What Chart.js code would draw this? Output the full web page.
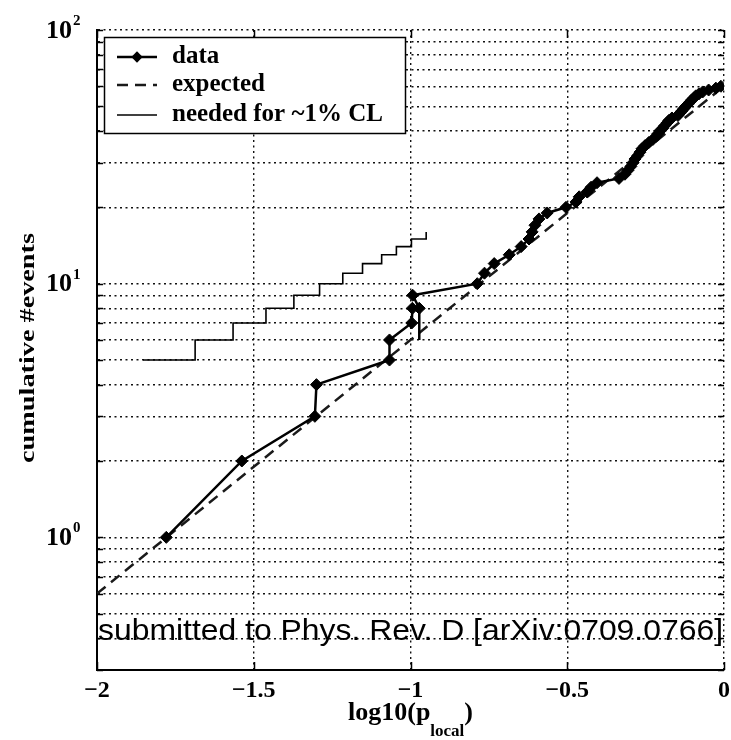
<!DOCTYPE html>
<html>
<head>
<meta charset="utf-8">
<script src="https://cdn.jsdelivr.net/npm/chart.js@4.4.1/dist/chart.umd.min.js"></script>
<style>
  body { margin: 0; background: #fff; }
  canvas { display: block; }
</style>
</head>
<body>
<canvas id="grafica" width="731" height="740"></canvas>
<script>
// cumulative event count vs log10(p_local)
const dataLogP = [-1.779, -1.538, -1.305, -1.300, -1.067, -1.067, -0.996, -0.994, -0.972, -0.993,
  -0.787, -0.764, -0.733, -0.685, -0.647, -0.622, -0.612, -0.603, -0.590, -0.564,
  -0.504, -0.472, -0.462, -0.437, -0.424, -0.405, -0.335, -0.316, -0.306, -0.297,
  -0.290, -0.284, -0.275, -0.268, -0.262, -0.252, -0.240, -0.227, -0.217, -0.211,
  -0.205, -0.195, -0.189, -0.182, -0.176, -0.166, -0.147, -0.141, -0.134, -0.128,
  -0.122, -0.115, -0.109, -0.103, -0.096, -0.090, -0.080, -0.068, -0.049, -0.026, -0.010];
const dataCount = [1, 2, 3, 4, 5, 6, 7, 8, 8, 9,
  10, 11, 12, 13, 14, 15, 16, 17, 18, 19,
  20, 21, 22, 23, 24, 25, 26, 27, 28, 29,
  30, 31, 32, 33, 34, 35, 36, 37, 38, 39,
  40, 41, 42, 43, 44, 45, 46, 47, 48, 49,
  50, 51, 52, 53, 54, 55, 56, 57, 58, 59, 60];

// stray vertical segment in the data curve
const strayLogP = [-0.972, -0.972];
const strayCount = [8, 6];

const expectedLogP = [-2, 0];
const expectedCount = [0.6, 60];

const neededLogP = [-1.853, -1.687, -1.566, -1.461, -1.372, -1.290, -1.216, -1.153, -1.092, -1.045, -0.997, -0.950];
const neededCount = [5, 6, 7, 8, 9, 10, 11, 12, 13, 14, 15, 16];

const xTicks = [-2, -1.5, -1, -0.5, 0];
const yGrid = [0.3, 0.4, 0.5, 0.6, 0.7, 0.8, 0.9, 1, 2, 3, 4, 5, 6, 7, 8, 9,
  10, 20, 30, 40, 50, 60, 70, 80, 90, 100];
const yLabelValues = [1, 10, 100];
const yLabelExp = ['0', '1', '2'];

const serif = "'Liberation Serif', 'DejaVu Serif', serif";

function pts(xs, ys) {
  return xs.map((x, i) => ({ x: x, y: ys[i] }));
}

const decoPlugin = {
  id: 'deco',
  afterDraw(chart) {
    const ctx = chart.ctx;
    const a = chart.chartArea;
    const xs = chart.scales.x, ys = chart.scales.y;
    ctx.save();

    // inward tick marks
    ctx.strokeStyle = '#000';
    ctx.lineWidth = 1.5;
    ctx.beginPath();
    yGrid.forEach(v => {
      const y = Math.round(ys.getPixelForValue(v)) + 0.5;
      ctx.moveTo(a.left, y); ctx.lineTo(a.left + 6, y);
      ctx.moveTo(a.right, y); ctx.lineTo(a.right - 6, y);
    });
    xTicks.forEach(v => {
      const x = Math.round(xs.getPixelForValue(v)) + 0.5;
      ctx.moveTo(x, a.bottom); ctx.lineTo(x, a.bottom - 8);
      ctx.moveTo(x, a.top); ctx.lineTo(x, a.top + 8);
    });
    ctx.stroke();

    // annotation
    ctx.fillStyle = '#000';
    ctx.font = "30px 'Liberation Sans', Arial, sans-serif";
    ctx.textAlign = 'left';
    ctx.textBaseline = 'alphabetic';
    const note = 'submitted to Phys. Rev. D [arXiv:0709.0766]';
    const nw = ctx.measureText(note).width;
    ctx.save();
    ctx.translate(a.left + 1, 640);
    ctx.scale((a.right - a.left - 2) / nw, 1);
    ctx.fillText(note, 0, 0);
    ctx.restore();

    // y tick labels 10^n
    yLabelValues.forEach((v, i) => {
      const y = ys.getPixelForValue(v);
      ctx.font = 'bold 26px ' + serif;
      ctx.textAlign = 'right';
      ctx.textBaseline = 'middle';
      ctx.fillText('10', 72, y + 1);
      ctx.font = 'bold 15px ' + serif;
      ctx.textAlign = 'left';
      ctx.fillText(yLabelExp[i], 73, y - 9);
    });

    // y title
    ctx.save();
    ctx.translate(34, (a.top + a.bottom) / 2 - 2);
    ctx.rotate(-Math.PI / 2);
    ctx.font = 'bold 22px ' + serif;
    const yt = 'cumulative #events';
    const yw = ctx.measureText(yt).width;
    ctx.scale(230 / yw, 1);
    ctx.textAlign = 'center';
    ctx.textBaseline = 'alphabetic';
    ctx.fillText(yt, 0, 0);
    ctx.restore();

    // x title with subscript
    ctx.textAlign = 'left';
    ctx.textBaseline = 'alphabetic';
    ctx.font = 'bold 26px ' + serif;
    const t1 = 'log10(p', t3 = ')';
    const w1 = ctx.measureText(t1).width, w3 = ctx.measureText(t3).width;
    ctx.font = 'bold 17px ' + serif;
    const t2 = 'local';
    const w2 = ctx.measureText(t2).width;
    let x0 = (a.left + a.right) / 2 - (w1 + w2 + w3) / 2;
    ctx.font = 'bold 26px ' + serif;
    ctx.fillText(t1, x0, 720);
    ctx.font = 'bold 17px ' + serif;
    ctx.fillText(t2, x0 + w1, 736);
    ctx.font = 'bold 26px ' + serif;
    ctx.fillText(t3, x0 + w1 + w2, 720);

    // legend box
    const bx = 104, by = 37, bw = 301, bh = 96;
    ctx.fillStyle = '#fff';
    ctx.fillRect(bx, by, bw, bh);
    ctx.strokeStyle = '#000';
    ctx.lineWidth = 1.5;
    ctx.strokeRect(bx + 0.5, by + 0.5, bw, bh);
    const rows = [57, 85, 115];
    const order = [0, 2, 3];
    order.forEach((di, r) => {
      const ds = chart.data.datasets[di];
      const y = rows[r];
      ctx.save();
      ctx.strokeStyle = ds.borderColor;
      ctx.lineWidth = ds.borderWidth;
      ctx.setLineDash(ds.borderDash || []);
      ctx.beginPath();
      ctx.moveTo(117, y); ctx.lineTo(157, y);
      ctx.stroke();
      ctx.restore();
      if (ds.pointRadius) {
        ctx.save();
        ctx.fillStyle = '#000';
        ctx.translate(137, y);
        ctx.rotate(Math.PI / 4);
        ctx.fillRect(-4, -4, 8, 8);
        ctx.restore();
      }
      ctx.fillStyle = '#000';
      ctx.font = 'bold 25px ' + serif;
      ctx.textAlign = 'left';
      ctx.textBaseline = 'middle';
      ctx.fillText(ds.label, 172, y);
    });
    ctx.restore();
  }
};

new Chart(document.getElementById('grafica').getContext('2d'), {
  type: 'scatter',
  data: {
    datasets: [
      {
        label: 'data',
        data: pts(dataLogP, dataCount),
        showLine: true,
        borderColor: '#000',
        borderWidth: 2.5,
        pointStyle: 'rectRot',
        pointRadius: 6,
        pointBackgroundColor: '#000',
        pointBorderColor: '#000',
        pointBorderWidth: 1
      },
      {
        label: 'stray',
        data: pts(strayLogP, strayCount),
        showLine: true,
        borderColor: '#000',
        borderWidth: 2.5,
        pointRadius: 0
      },
      {
        label: 'expected',
        data: pts(expectedLogP, expectedCount),
        showLine: true,
        borderColor: '#1a1a1a',
        borderWidth: 2.5,
        borderDash: [11, 7],
        pointRadius: 0
      },
      {
        label: 'needed for ~1% CL',
        data: pts(neededLogP, neededCount),
        showLine: true,
        stepped: 'before',
        borderColor: '#000',
        borderWidth: 1.6,
        pointRadius: 0
      }
    ]
  },
  options: {
    responsive: false,
    animation: false,
    devicePixelRatio: 1,
    layout: { padding: { left: 0, right: 6, top: 30, bottom: 0 } },
    plugins: {
      legend: { display: false },
      tooltip: { enabled: false }
    },
    scales: {
      x: {
        type: 'linear',
        min: -2,
        max: 0,
        afterBuildTicks: s => { s.ticks = xTicks.map(v => ({ value: v })); },
        afterFit: s => { s.height = 70; s.paddingLeft = 0; s.paddingRight = 0; },
        ticks: {
          color: '#000',
          padding: 6,
          autoSkip: false,
          maxRotation: 0,
          font: { family: serif, size: 24, weight: 'bold' },
          callback: v => v < 0 ? '\u2212' + Math.abs(v) : String(v)
        },
        grid: { color: '#111', lineWidth: 1.4, drawTicks: false },
        border: { display: true, color: '#000', width: 2, dash: [2, 3.5] }
      },
      y: {
        type: 'logarithmic',
        min: 0.3,
        max: 100,
        afterBuildTicks: s => { s.ticks = yGrid.map(v => ({ value: v })); },
        afterFit: s => { s.width = 97; },
        ticks: { display: false },
        grid: { color: '#111', lineWidth: 1.4, drawTicks: false },
        border: { display: true, color: '#000', width: 2, dash: [2, 3.5] }
      }
    }
  },
  plugins: [decoPlugin]
});
</script>
</body>
</html>
